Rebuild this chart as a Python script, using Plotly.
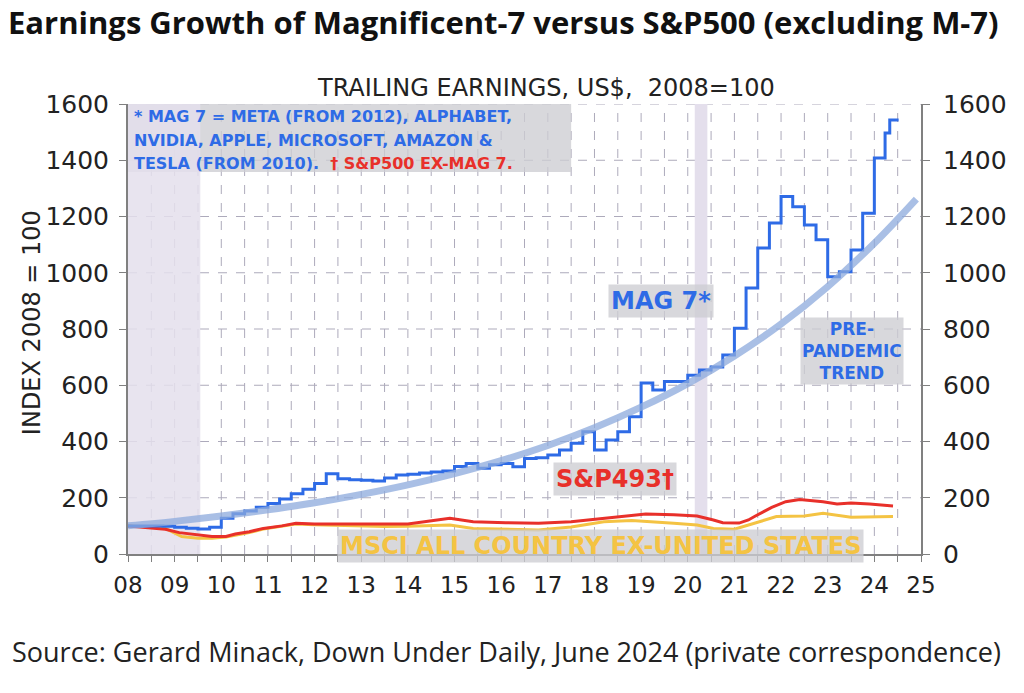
import plotly.graph_objects as go

# MAG 7 trailing earnings index (step series, 2008 = 100)
mag7_t = [2008.0, 2008.25, 2008.5, 2008.75, 2009.0, 2009.25, 2009.5, 2009.75,
          2010.0, 2010.25, 2010.5, 2010.75, 2011.0, 2011.25, 2011.5, 2011.75,
          2012.0, 2012.25, 2012.5, 2012.75, 2013.0, 2013.25, 2013.5, 2013.75,
          2014.0, 2014.25, 2014.5, 2014.75, 2015.0, 2015.25, 2015.5, 2015.75,
          2016.0, 2016.25, 2016.5, 2016.75, 2017.0, 2017.25, 2017.5, 2017.75,
          2018.0, 2018.25, 2018.5, 2018.75, 2019.0, 2019.25, 2019.5, 2020.0,
          2020.25, 2020.5, 2020.75, 2021.0, 2021.25, 2021.5, 2021.75, 2022.0,
          2022.25, 2022.5, 2022.75, 2023.0, 2023.25, 2023.5, 2023.75, 2024.0,
          2024.23, 2024.33, 2024.52]
mag7_v = [100, 100, 100, 99, 95, 92, 89, 95,
          127, 143, 153, 166, 180, 196, 214, 230,
          251, 285, 268, 264, 262, 260, 270, 281,
          284, 288, 292, 295, 311, 322, 305, 317,
          322, 310, 340, 342, 352, 370, 394, 435,
          370, 405, 435, 488, 608, 583, 613, 636,
          654, 665, 708, 803, 946, 1088, 1177, 1271,
          1235, 1170, 1117, 986, 1004, 1081, 1212, 1408,
          1497, 1543, 1543]

# pre-pandemic trend
trend_t = [2008, 2009, 2010, 2011, 2012, 2013, 2014, 2015, 2016, 2017,
           2018, 2019, 2020, 2021, 2022, 2023, 2024, 2024.9]
trend_v = [100, 116, 135, 157, 182, 212, 246, 286, 332, 386,
           449, 522, 606, 704, 818, 951, 1105, 1262]

# S&P500 ex-MAG 7
sp493_t = [2008.0, 2008.4, 2008.8, 2009.1, 2009.5, 2009.8, 2010.1, 2010.3, 2010.6,
           2010.9, 2011.3, 2011.6, 2012.0, 2012.6, 2013.2, 2014.0, 2014.9, 2015.4,
           2016.1, 2016.8, 2017.5, 2018.2, 2018.8, 2019.1, 2019.7, 2020.2, 2020.55,
           2020.75, 2021.1, 2021.3, 2021.45, 2021.8, 2022.1, 2022.4, 2022.9, 2023.2,
           2023.5, 2023.9, 2024.4]
sp493_v = [100, 95, 88, 76, 68, 62, 62, 71, 79,
           91, 100, 109, 107, 107, 105, 107, 127, 115,
           111, 109, 115, 127, 139, 142, 140, 135, 121,
           111, 110, 121, 135, 166, 186, 194, 186, 178,
           181, 178, 171]

# MSCI All Country ex-United States
msci_t = [2008.0, 2008.6, 2008.8, 2009.15, 2009.5, 2009.8, 2010.1, 2010.6, 2010.9,
          2011.3, 2011.6, 2012.0, 2012.8, 2013.5, 2014.0, 2014.9, 2015.4, 2016.1,
          2016.8, 2017.5, 2018.2, 2018.8, 2019.1, 2019.7, 2020.2, 2020.55, 2021.0,
          2021.3, 2021.65, 2021.9, 2022.5, 2022.9, 2023.5, 2023.9, 2024.4]
msci_v = [100, 96, 91, 62, 56, 56, 60, 76, 89,
          100, 107, 104, 100, 98, 99, 103, 91, 89,
          85, 96, 115, 119, 115, 109, 103, 91, 88,
          103, 121, 133, 135, 145, 131, 131, 133]

year_ticks = [2008 + i * 0.5 for i in range(35)]
year_text = [("%02d" % (8 + i // 2)) if i % 2 == 0 else "" for i in range(35)]
y_ticks = [0, 200, 400, 600, 800, 1000, 1200, 1400, 1600]

shade = "#E4DFEC"
blue = "#2E6BE6"
red = "#E8302A"
yellow = "#F4C343"
grid = "#ADAABB"
axis_grey = "#808080"

fig = go.Figure()
fig.add_trace(go.Scatter(x=trend_t, y=trend_v, mode="lines", line_shape="spline",
                         line=dict(color="rgba(140,170,220,0.75)", width=7), yaxis="y2"))
fig.add_trace(go.Scatter(x=msci_t, y=msci_v, mode="lines",
                         line=dict(color=yellow, width=3)))
fig.add_trace(go.Scatter(x=sp493_t, y=sp493_v, mode="lines",
                         line=dict(color=red, width=3)))
fig.add_trace(go.Scatter(x=mag7_t, y=mag7_v, mode="lines", line_shape="hv",
                         line=dict(color=blue, width=3)))

# dashed grid drawn as shapes so the shaded bands can sit on top of it
for t in year_ticks[1:-1]:
    fig.add_shape(type="line", xref="x", yref="y", x0=t, x1=t, y0=0, y1=1600,
                  line=dict(color=grid, width=1, dash="dash"), layer="below")
for v in y_ticks[1:]:
    fig.add_shape(type="line", xref="x", yref="y", x0=2008, x1=2025, y0=v, y1=v,
                  line=dict(color=grid, width=1, dash="dash"), layer="below")

# grey note box top-left
box_grey = "rgba(205,205,210,0.78)"
fig.add_shape(type="rect", xref="x", yref="y", x0=2008.0, x1=2017.5, y0=1358, y1=1600,
              fillcolor=box_grey, line_width=0, layer="below")

# shaded recession / pandemic bands
fig.add_shape(type="rect", xref="x", yref="y", x0=2008.0, x1=2009.55, y0=0, y1=1600,
              fillcolor=shade, opacity=0.85, line_width=0, layer="below")
fig.add_shape(type="rect", xref="x", yref="y", x0=2020.15, x1=2020.42, y0=0, y1=1600,
              fillcolor=shade, line_width=0, layer="below")

x_font = dict(family="DejaVu Sans", size=23, color="#222222")
y_font = dict(family="DejaVu Sans", size=25, color="#222222")
fig.update_layout(
    width=1024, height=693,
    margin=dict(l=128, r=103, t=104, b=139),
    paper_bgcolor="white", plot_bgcolor="white",
    showlegend=False,
    xaxis=dict(range=[2008, 2025], tickvals=year_ticks, ticktext=year_text,
               ticks="outside", ticklen=6, tickcolor=axis_grey,
               showline=True, linecolor=axis_grey, linewidth=2, showgrid=False,
               tickfont=x_font, zeroline=False, automargin=False,
               ticklabelstandoff=3),
    yaxis=dict(range=[0, 1600], tickvals=y_ticks, ticks="outside", ticklen=7,
               tickcolor=axis_grey, showline=True, linecolor=axis_grey, linewidth=2,
               showgrid=False, tickfont=y_font, zeroline=False, automargin=False,
               ticklabelstandoff=5),
    yaxis2=dict(range=[0, 1600], tickvals=y_ticks, overlaying="y", side="right",
                matches="y", ticks="outside", ticklen=7, tickcolor=axis_grey,
                showline=True, linecolor=axis_grey, linewidth=2, showgrid=False,
                tickfont=y_font, zeroline=False, automargin=False,
                ticklabelstandoff=8),
)

fig.add_annotation(text="<b>Earnings Growth of Magnificent-7 versus S&P500 (excluding M-7)</b>",
                   xref="paper", yref="paper", x=-0.152, y=1.0, yshift=104,
                   xanchor="left", yanchor="top", showarrow=False, borderpad=0,
                   font=dict(family="Open Sans", size=31, color="#111111"))
fig.add_annotation(text="TRAILING EARNINGS, US$,  2008=100",
                   xref="paper", yref="paper", x=0.5265, y=1.0, yshift=16,
                   xanchor="center", yanchor="middle", showarrow=False,
                   font=dict(family="DejaVu Sans", size=24, color="#222222"))
fig.add_annotation(text="Source: Gerard Minack, Down Under Daily, June 2024 (private correspondence)",
                   xref="paper", yref="paper", x=-0.149, y=0, yshift=-97,
                   xanchor="left", yanchor="middle", showarrow=False,
                   font=dict(family="Open Sans", size=27, color="#222222"))
fig.add_annotation(text="INDEX 2008 = 100", textangle=-90,
                   xref="paper", yref="y", x=-0.121, y=821,
                   xanchor="center", yanchor="middle", showarrow=False,
                   font=dict(family="DejaVu Sans", size=24, color="#222222"))

note_font = dict(family="DejaVu Sans", size=16, color=blue)
lines = ["<b>* MAG 7 = META (FROM 2012), ALPHABET,</b>",
         "<b>NVIDIA, APPLE, MICROSOFT, AMAZON &</b>",
         "<b>TESLA (FROM 2010).  <span style='color:%s'>† S&P500 EX-MAG 7.</span></b>" % red]
for i, txt in enumerate(lines):
    fig.add_annotation(text=txt, xref="x", yref="y", x=2008.08, y=1554 - i * 82,
                       xanchor="left", yanchor="middle", showarrow=False, font=note_font)

fig.add_annotation(text="<b>MAG 7*</b>", x=2019.43, y=900, xref="x", yref="y",
                   showarrow=False, bgcolor=box_grey, borderpad=2,
                   font=dict(family="DejaVu Sans", size=24, color=blue))
fig.add_annotation(text="<b>PRE-<br>PANDEMIC<br>TREND</b>", x=2023.52, y=723,
                   xref="x", yref="y", showarrow=False, bgcolor=box_grey, borderpad=1,
                   font=dict(family="DejaVu Sans", size=17, color=blue))
fig.add_annotation(text="<b>S&P493†</b>", x=2018.44, y=267, xref="x", yref="y",
                   showarrow=False, bgcolor=box_grey, borderpad=2,
                   font=dict(family="DejaVu Sans", size=24, color=red))
fig.add_annotation(text="<b>MSCI ALL COUNTRY EX-UNITED STATES</b>", x=2018.12, y=28,
                   xref="x", yref="y", showarrow=False, bgcolor=box_grey, borderpad=2,
                   font=dict(family="DejaVu Sans", size=24, color=yellow))

# page body margin would otherwise shift the figure by 8px
fig.write_html("out.html", config={"displayModeBar": False},
               post_script="document.body.style.margin='0';")
